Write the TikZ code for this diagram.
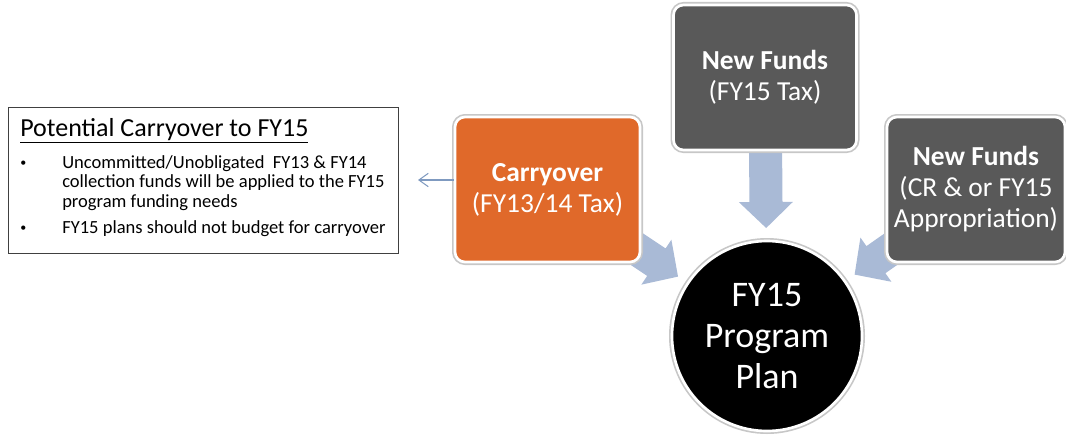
\documentclass[tikz,border=0pt]{standalone}
\usepackage{fontspec}
\setmainfont{Carlito}
\usetikzlibrary{calc,arrows.meta,backgrounds}
\definecolor{orng}{HTML}{E0692A}
\definecolor{dgray}{HTML}{595959}
\definecolor{arrblue}{HTML}{A9BAD6}
\definecolor{thinblue}{HTML}{7F9AC0}
\definecolor{boxline}{HTML}{404040}
\newcommand\blockarr[2]{%
  \path (#1) coordinate (ba-s) (#2) coordinate (ba-t);
  \path ($(ba-t)!19.5pt!(ba-s)$) coordinate (ba-h);
  \fill[arrblue] ($(ba-s)!12.4pt!90:(ba-t)$) -- ($(ba-h)!12.4pt!90:(ba-t)$)
    -- ($(ba-h)!20.25pt!90:(ba-t)$) -- (ba-t) -- ($(ba-h)!20.25pt!-90:(ba-t)$)
    -- ($(ba-h)!12.4pt!-90:(ba-t)$) -- ($(ba-s)!12.4pt!-90:(ba-t)$) -- cycle;}
\tikzset{
  fundbox/.style={rectangle, rounded corners=7.5pt, draw=white, line width=2pt,
    text=white, align=center, inner sep=1pt, minimum height=108.75pt,
    font=\fontsize{20.6}{23.25}\selectfont,
    preaction={draw=black!22, line width=4.5pt}},
  plancircle/.style={circle, fill=black, draw=white, line width=2pt, text=white,
    align=center, minimum size=142.5pt, inner sep=0pt,
    font=\fontsize{27}{30.75}\selectfont,
    preaction={draw=black!22, line width=4.5pt}},
  notetext/.style={anchor=base west, inner sep=0pt, font=\fontsize{13.9}{15}\selectfont},
  bulletmark/.style={anchor=base west, inner sep=0pt, font=\fontsize{9}{10}\selectfont},
}
\begin{document}
\begin{tikzpicture}[x=0.75pt, y=-0.75pt]
\useasboundingbox (0,0) rectangle (1066,435);
% left note
\node[draw=boxline, line width=0.8pt, minimum width=292.5pt, minimum height=109.5pt,
  anchor=north west, inner sep=0pt] (note) at (8,107) {};
\node[anchor=base west, inner sep=0pt, font=\fontsize{19.5}{22}\selectfont] (title) at (20,136)
  {\underline{Potential Carryover to FY15}};
\node[bulletmark] (b1) at (20,166) {•};
\node[notetext] (l1) at (62,168) {Uncommitted/Unobligated\ \ FY13 \& FY14};
\node[notetext] (l2) at (62,187.5) {collection funds will be applied\ to the FY15};
\node[notetext] (l3) at (62,207) {program\ funding\ needs};
\node[bulletmark] (b2) at (20,231) {•};
\node[notetext] (l4) at (62,233) {FY15 plans should not budget\ for carryover};
% boxes
\node[fundbox, fill=orng, minimum width=138.75pt] (carry) at (547.5,189.5)
  {\textbf{Carryover}\\(FY13/14 Tax)};
\node[fundbox, fill=dgray, minimum width=137.25pt] (nf1) at (765,77.5)
  {\textbf{New Funds}\\(FY15 Tax)};
\node[fundbox, fill=dgray, minimum width=133.5pt] (nf2) at (976,189.5)
  {\textbf{New Funds}\\(CR \& or FY15\\Appropriation)};
\node[plancircle] (plan) at (767,336) {FY15\\Program\\Plan};
% arrows
\begin{pgfonlayer}{background}
  \blockarr{carry.center}{$(plan.center)!80.25pt!(carry.center)$}
  \blockarr{nf1.center}{$(plan.center)!81pt!(nf1.center)$}
  \blockarr{nf2.center}{$(plan.center)!80.25pt!(nf2.center)$}
\end{pgfonlayer}
\coordinate (ct) at (418,180);
\draw[thinblue, line width=0.8pt, -{Straight Barb[length=7pt,width=10pt]}]
  (carry.west |- ct) -- (ct);
\end{tikzpicture}
\end{document}
